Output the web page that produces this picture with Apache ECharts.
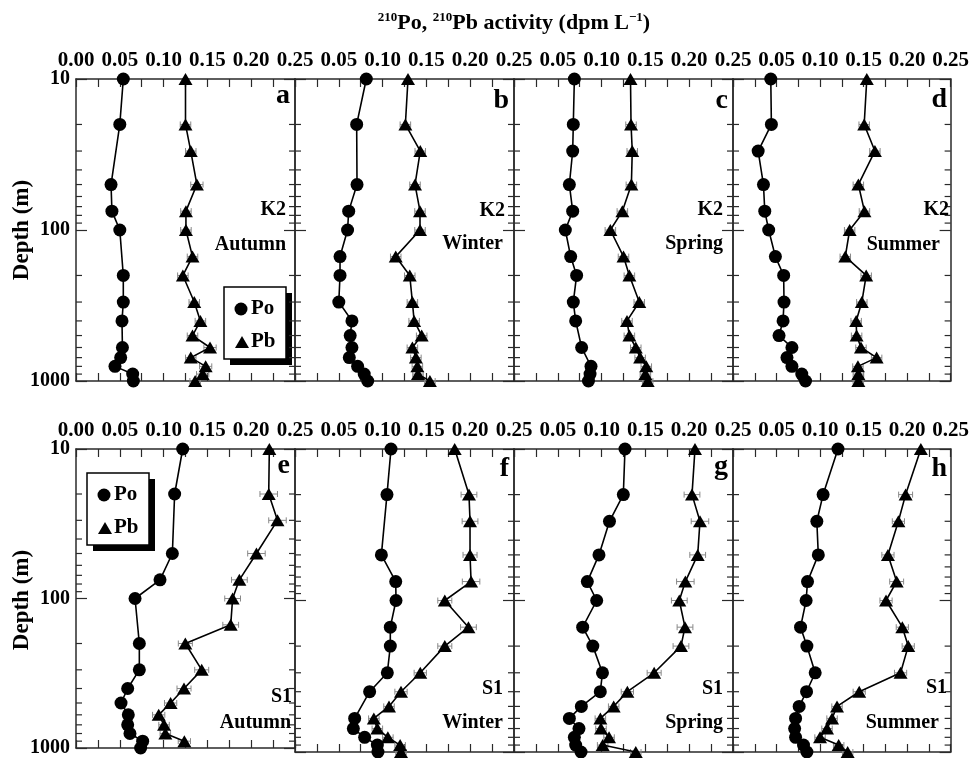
<!DOCTYPE html>
<html>
<head>
<meta charset="utf-8">
<script src="https://cdn.jsdelivr.net/npm/echarts@6/dist/echarts.min.js"></script>
<style>
  html, body { margin: 0; padding: 0; background: #fff; }
  #chart { width: 972px; height: 758px; }
</style>
</head>
<body>
<div id="chart"></div>
<script>
// Sampling depths (m) shared by every profile; null = no sample at that depth
const depths = [10, 20, 30, 50, 75, 100, 150, 200, 300, 400, 500, 600, 700, 800, 900, 1000];
// Logarithmic minor tick positions on the depth axis
const minorDepths = [20, 30, 40, 50, 60, 70, 80, 90, 200, 300, 400, 500, 600, 700, 800, 900];
const xTickLabels = ['0.00', '0.05', '0.10', '0.15', '0.20', '0.25'];

// Station K2
const poA = [0.054, 0.050, null, 0.040, 0.041, 0.050, null, 0.054, 0.054, 0.0525, null, 0.053, 0.051, 0.0445, 0.0647, 0.0655];
const pbA = [0.125, 0.125, 0.131, 0.138, 0.1255, 0.1255, 0.133, 0.122, 0.135, 0.142, 0.133, 0.153, 0.131, 0.148, 0.1446, 0.136];
const errA = [0, 0.006, 0.006, 0.007, 0.006, 0.006, 0.006, 0.006, 0.006, 0.006, 0.006, 0.007, 0.006, 0.007, 0.007, 0.006];

const poB = [0.0814, 0.0704, null, 0.0708, 0.0613, 0.060, 0.0514, 0.0514, 0.050, 0.065, 0.063, 0.065, 0.062, 0.0715, 0.079, 0.083];
const pbB = [0.129, 0.126, 0.143, 0.137, 0.1427, 0.1427, 0.115, 0.131, 0.134, 0.136, 0.1446, 0.134, 0.138, 0.1397, 0.1404, 0.154];
const errB = [0, 0.006, 0.006, 0.006, 0.006, 0.006, 0.006, 0.006, 0.006, 0.006, 0.006, 0.006, 0.006, 0.006, 0.006, 0.006];

const poC = [0.0689, 0.0677, 0.067, 0.0632, 0.067, 0.0586, 0.0647, 0.0715, 0.0677, 0.0704, null, 0.0772, null, 0.0879, 0.0868, 0.085];
const pbC = [0.133, 0.1336, 0.135, 0.134, 0.1237, 0.110, 0.125, 0.1317, 0.143, 0.129, 0.1317, 0.139, 0.144, 0.151, 0.150, 0.1526];
const errC = [0, 0.006, 0.006, 0.006, 0.006, 0.006, 0.006, 0.006, 0.006, 0.006, 0.006, 0.006, 0.006, 0.006, 0.006, 0.006];

const poD = [0.0434, 0.0441, 0.0289, 0.035, 0.0365, 0.041, 0.0487, 0.0582, 0.0586, 0.0575, 0.0529, 0.0677, 0.062, 0.0677, 0.079, 0.0833];
const pbD = [0.1537, 0.1507, 0.163, 0.144, 0.151, 0.134, 0.129, 0.153, 0.148, 0.1415, 0.142, 0.147, 0.165, 0.1435, 0.144, 0.144];
const errD = [0, 0.006, 0.006, 0.006, 0.006, 0.006, 0.006, 0.006, 0.006, 0.006, 0.006, 0.006, 0.006, 0.006, 0.006, 0.006];

// Station S1
const poE = [0.1218, 0.1126, null, 0.110, 0.0959, 0.0674, null, 0.0723, 0.0723, 0.059, 0.0514, 0.0597, 0.059, 0.0616, 0.0761, 0.0738];
const pbE = [0.2207, 0.220, 0.230, 0.206, 0.1865, 0.1788, 0.1766, 0.1248, 0.1435, 0.1233, 0.108, 0.0944, 0.1005, 0.102, 0.1237, null];
const errE = [0, 0.010, 0.010, 0.010, 0.009, 0.009, 0.009, 0.008, 0.008, 0.008, 0.007, 0.007, 0.006, 0.006, 0.007, null];

const poF = [0.1096, 0.105, null, 0.0986, 0.115, 0.1153, 0.1088, 0.1088, 0.1054, 0.0852, null, 0.0681, 0.0666, 0.0795, 0.094, 0.0947];
const pbF = [0.1823, 0.1986, 0.1998, 0.1998, 0.201, 0.171, 0.198, 0.171, 0.143, 0.121, 0.1073, 0.090, 0.094, 0.106, 0.120, 0.121];
const errF = [0, 0.009, 0.009, 0.008, 0.010, 0.008, 0.009, 0.008, 0.007, 0.007, 0.006, 0.006, 0.006, 0.006, 0.006, 0.006];

const poG = [0.1267, 0.1248, 0.109, 0.097, 0.0837, 0.0944, 0.0784, 0.090, 0.101, 0.0985, 0.0769, 0.0632, 0.0742, 0.0689, 0.0704, 0.0765];
const pbG = [0.2066, 0.2032, 0.2123, 0.2097, 0.1956, 0.1887, 0.1952, 0.1906, 0.160, 0.1294, 0.1138, 0.0986, 0.0993, 0.1085, 0.1012, 0.139];
const errG = [0, 0.009, 0.010, 0.009, 0.010, 0.009, 0.009, 0.009, 0.008, 0.007, 0.006, 0.006, 0.006, 0.006, 0.006, 0.006];

const poH = [0.1206, 0.1035, 0.0963, 0.098, 0.0856, 0.084, 0.0776, 0.0849, 0.0944, 0.0845, 0.076, 0.0719, 0.0708, 0.0719, 0.081, 0.0849];
const pbH = [0.2158, 0.1983, 0.190, 0.178, 0.188, 0.1758, 0.1945, 0.2013, 0.1925, 0.145, 0.1195, 0.1138, 0.108, 0.100, 0.1214, 0.1317];
const errH = [0, 0.008, 0.007, 0.007, 0.008, 0.007, 0.007, 0.007, 0.007, 0.007, 0.006, 0.006, 0.006, 0.006, 0.006, 0.006];

const panelLetters = ['a', 'b', 'c', 'd', 'e', 'f', 'g', 'h'];
const stations = ['K2', 'K2', 'K2', 'K2', 'S1', 'S1', 'S1', 'S1'];
const seasons = ['Autumn', 'Winter', 'Spring', 'Summer', 'Autumn', 'Winter', 'Spring', 'Summer'];
const poProfiles = [poA, poB, poC, poD, poE, poF, poG, poH];
const pbProfiles = [pbA, pbB, pbC, pbD, pbE, pbF, pbG, pbH];
const pbErrors = [errA, errB, errC, errD, errE, errF, errG, errH];

// ---- layout ----
const FONT = '"Liberation Serif", "Times New Roman", Times, serif';
const AX = '#2a2a2a';
const PANEL_W = 219, LEFT0 = 76;
const ROW_TOP = [79, 449], ROW_H = [302, 303];
const letterY = [96, 101, 101, 100, 466, 469, 467, 469];
const stationRight = [9, 9, 10, 3, 3, 11, 10, 5];
const stationY = [131, 132, 131, 131, 248, 240, 240, 239];
const seasonRight = [9, 11, 10, 12, 4, 11, 10, 13];
const seasonY = [166, 165, 165, 166, 274, 274, 274, 274];

const grids = [], xAxes = [], yAxes = [], series = [], graphics = [];

for (let i = 0; i < 8; i++) {
  const row = Math.floor(i / 4), col = i % 4;
  const left = LEFT0 + col * PANEL_W, top = ROW_TOP[row], h = ROW_H[row];
  grids.push({ left: left, top: top, width: PANEL_W, height: h, containLabel: false });

  const xCommon = {
    gridIndex: i, type: 'value', min: 0, max: 0.25, interval: 0.05,
    axisLine: { show: true, onZero: false, lineStyle: { color: AX, width: 1.5 } },
    axisTick: { show: true, inside: true, length: 8, lineStyle: { color: AX, width: 1.2 } },
    minorTick: { show: true, splitNumber: 2, length: 8, lineStyle: { color: AX, width: 1.2 } },
    splitLine: { show: false }, minorSplitLine: { show: false }
  };
  xAxes.push(Object.assign({}, xCommon, {
    position: 'top',
    axisLabel: {
      show: true, margin: 8, color: '#000', fontFamily: FONT, fontWeight: 'bold', fontSize: 21,
      showMinLabel: true, showMaxLabel: true,
      formatter: function (v) {
        const k = Math.round(v / 0.05);
        if (col > 0 && k === 0) return '';
        return xTickLabels[k];
      }
    }
  }));
  xAxes.push(Object.assign({}, xCommon, { position: 'bottom', axisLabel: { show: false } }));

  const yCommon = {
    gridIndex: i, type: 'log', logBase: 10, min: 10, max: 1000, inverse: true, splitNumber: 2,
    axisLine: { show: true, onZero: false, lineStyle: { color: AX, width: 1.5 } },
    axisTick: { show: true, inside: true, length: 11, lineStyle: { color: AX, width: 1.2 } },
    minorTick: { show: false },
    splitLine: { show: false }
  };
  yAxes.push(Object.assign({}, yCommon, {
    position: 'left',
    axisLabel: {
      show: col === 0, margin: 6, color: '#000', fontFamily: FONT, fontWeight: 'bold', fontSize: 20,
      formatter: function (v) { return String(Math.round(v)); }
    }
  }));
  yAxes.push(Object.assign({}, yCommon, { position: 'right', axisLabel: { show: false } }));

  const xi = 2 * i, yi = 2 * i;

  // minor depth ticks on both sides of the panel
  series.push({
    type: 'custom', xAxisIndex: xi, yAxisIndex: yi, silent: true, clip: false, z: 1,
    data: minorDepths.map(d => [0, d]),
    renderItem: function (params, api) {
      const y = api.coord([0, api.value(1)])[1];
      const cs = params.coordSys;
      const st = { stroke: AX, lineWidth: 1.2 };
      return {
        type: 'group', children: [
          { type: 'line', shape: { x1: cs.x, y1: y, x2: cs.x + 6, y2: y }, style: st },
          { type: 'line', shape: { x1: cs.x + cs.width - 6, y1: y, x2: cs.x + cs.width, y2: y }, style: st }
        ]
      };
    }
  });

  const po = poProfiles[i], pb = pbProfiles[i], er = pbErrors[i];
  const poData = [], pbData = [], errData = [];
  depths.forEach((d, k) => {
    if (po[k] != null) poData.push([po[k], d]);
    if (pb[k] != null) {
      pbData.push([pb[k], d]);
      if (er[k]) errData.push([pb[k], d, er[k]]);
    }
  });

  // Pb uncertainty bars
  series.push({
    type: 'custom', xAxisIndex: xi, yAxisIndex: yi, silent: true, clip: false, z: 2,
    data: errData,
    renderItem: function (params, api) {
      const x = api.value(0), d = api.value(1), e = api.value(2);
      const lo = api.coord([x - e, d]), hi = api.coord([x + e, d]);
      const st = { stroke: '#888', lineWidth: 1 };
      return {
        type: 'group', children: [
          { type: 'line', shape: { x1: lo[0], y1: lo[1], x2: hi[0], y2: hi[1] }, style: st },
          { type: 'line', shape: { x1: lo[0], y1: lo[1] - 3, x2: lo[0], y2: lo[1] + 3 }, style: st },
          { type: 'line', shape: { x1: hi[0], y1: hi[1] - 3, x2: hi[0], y2: hi[1] + 3 }, style: st }
        ]
      };
    }
  });

  series.push({
    name: 'Po', type: 'line', xAxisIndex: xi, yAxisIndex: yi, data: poData,
    symbol: 'circle', symbolSize: 13, showSymbol: true, clip: false, z: 3,
    lineStyle: { color: '#000', width: 1.6 }, itemStyle: { color: '#000' }
  });
  series.push({
    name: 'Pb', type: 'line', xAxisIndex: xi, yAxisIndex: yi, data: pbData,
    symbol: 'triangle', symbolSize: [14, 12], showSymbol: true, clip: false, z: 3,
    lineStyle: { color: '#000', width: 1.6 }, itemStyle: { color: '#000' }
  });

  // panel letter, station and season
  const right = left + PANEL_W;
  graphics.push({
    type: 'text', x: right - 5, y: letterY[i], z: 10,
    style: { text: panelLetters[i], align: 'right', verticalAlign: 'middle', fill: '#000', font: 'bold 28px ' + FONT }
  });
  graphics.push({
    type: 'text', x: right - stationRight[i], y: top + stationY[i], z: 10,
    style: { text: stations[i], align: 'right', verticalAlign: 'middle', fill: '#000', font: 'bold 20px ' + FONT }
  });
  graphics.push({
    type: 'text', x: right - seasonRight[i], y: top + seasonY[i], z: 10,
    style: { text: seasons[i], align: 'right', verticalAlign: 'middle', fill: '#000', font: 'bold 20px ' + FONT }
  });
}

// legend boxes with drop shadow
function legendBox(x, y) {
  const w = 62, h = 72;
  return {
    type: 'group', x: x, y: y, z: 20, children: [
      { type: 'rect', shape: { x: 6, y: 6, width: w, height: h }, style: { fill: '#000' } },
      { type: 'rect', shape: { x: 0, y: 0, width: w, height: h }, style: { fill: '#fff', stroke: '#000', lineWidth: 1.5 } },
      { type: 'circle', shape: { cx: 17, cy: 22, r: 6.5 }, style: { fill: '#000' } },
      { type: 'text', x: 27, y: 22, style: { text: 'Po', verticalAlign: 'middle', fill: '#000', font: 'bold 21px ' + FONT } },
      { type: 'polygon', shape: { points: [[18, 49], [25, 61], [11, 61]] }, style: { fill: '#000' } },
      { type: 'text', x: 27, y: 55, style: { text: 'Pb', verticalAlign: 'middle', fill: '#000', font: 'bold 21px ' + FONT } }
    ]
  };
}
graphics.push(legendBox(224, 287));
graphics.push(legendBox(87, 473));

// axis titles
graphics.push({
  type: 'text', x: 514, y: 23, z: 10,
  style: {
    text: '{s|210}{m|Po, }{s|210}{m|Pb activity (dpm L}{s|\u22121}{m|)}',
    align: 'center', verticalAlign: 'middle', fill: '#000',
    rich: {
      m: { fontFamily: FONT, fontWeight: 'bold', fontSize: 22, lineHeight: 24 },
      s: { fontFamily: FONT, fontWeight: 'bold', fontSize: 13, verticalAlign: 'top' }
    }
  }
});
[230, 600].forEach(function (cy) {
  graphics.push({
    type: 'text', x: 22, y: cy, rotation: Math.PI / 2, z: 10,
    style: { text: 'Depth (m)', align: 'center', verticalAlign: 'middle', fill: '#000', font: 'bold 23px ' + FONT }
  });
});

const chart = echarts.init(document.getElementById('chart'), null, { renderer: 'canvas' });
chart.setOption({
  animation: false,
  backgroundColor: '#fff',
  grid: grids,
  xAxis: xAxes,
  yAxis: yAxes,
  series: series,
  graphic: graphics
});
</script>
</body>
</html>
